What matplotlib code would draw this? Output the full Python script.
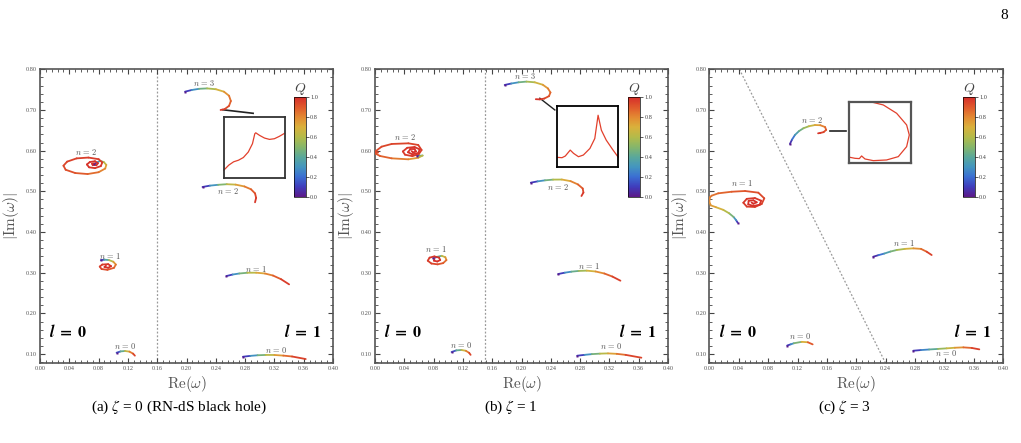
import matplotlib.pyplot as plt
from matplotlib.collections import LineCollection
from matplotlib.colors import LinearSegmentedColormap

plt.rcParams['mathtext.fontset'] = 'cm'
plt.rcParams['font.family'] = 'Liberation Serif'

# colour scale for the charge Q (rainbow style)
q_colors = ['#5b1a8a', '#3f3dbd', '#3b6fd2', '#4496bf', '#5aa89a', '#86b66a',
            '#b3bb4a', '#d9b13c', '#e38a32', '#e05a2c', '#d6302a']
rainbow = LinearSegmentedColormap.from_list('rainbow_q', q_colors)

# ---- panel (a): zeta = 0 ----  points are (Re, |Im|, Q)
a_l0_n0 = [(0.1045, 0.1033, 0.0), (0.110, 0.1065, 0.3), (0.116, 0.1075, 0.55),
           (0.122, 0.106, 0.75), (0.127, 0.101, 0.9), (0.1295, 0.096, 1.0)]
a_l0_n1 = [(0.083, 0.331, 0.0), (0.088, 0.332, 0.25), (0.094, 0.331, 0.5),
           (0.100, 0.327, 0.7), (0.1035, 0.320, 0.82), (0.101, 0.312, 0.88),
           (0.092, 0.307, 0.92), (0.084, 0.309, 0.945), (0.0815, 0.315, 0.96),
           (0.085, 0.320, 0.97), (0.093, 0.321, 0.98), (0.097, 0.316, 0.987),
           (0.093, 0.312, 0.993), (0.088, 0.314, 0.997), (0.090, 0.317, 1.0)]
a_l0_n2 = [(0.074, 0.567, 0.0), (0.078, 0.571, 0.2), (0.082, 0.575, 0.4),
           (0.087, 0.572, 0.55), (0.0905, 0.565, 0.7), (0.089, 0.556, 0.78),
           (0.080, 0.547, 0.84), (0.065, 0.5425, 0.88), (0.048, 0.545, 0.91),
           (0.035, 0.553, 0.93), (0.032, 0.563, 0.94), (0.037, 0.573, 0.95),
           (0.050, 0.581, 0.96), (0.066, 0.583, 0.965), (0.080, 0.579, 0.97),
           (0.085, 0.571, 0.975), (0.083, 0.562, 0.98), (0.075, 0.557, 0.984),
           (0.067, 0.559, 0.987), (0.064, 0.566, 0.99), (0.068, 0.572, 0.992),
           (0.075, 0.574, 0.994), (0.079, 0.569, 0.996), (0.077, 0.564, 0.997),
           (0.072, 0.564, 0.998), (0.071, 0.568, 0.999), (0.074, 0.569, 1.0)]
a_l1_n0 = [(0.277, 0.0934, 0.0), (0.287, 0.0955, 0.2), (0.297, 0.097, 0.38),
           (0.308, 0.0978, 0.55), (0.320, 0.0977, 0.7), (0.332, 0.0962, 0.82),
           (0.344, 0.094, 0.91), (0.3627, 0.0877, 1.0)]
a_l1_n1 = [(0.2545, 0.2918, 0.0), (0.263, 0.2955, 0.2), (0.272, 0.298, 0.38),
           (0.283, 0.2998, 0.55), (0.295, 0.300, 0.68), (0.307, 0.298, 0.78),
           (0.318, 0.293, 0.86), (0.329, 0.284, 0.93), (0.340, 0.2713, 1.0)]
a_l1_n2 = [(0.2218, 0.5107, 0.0), (0.232, 0.514, 0.2), (0.243, 0.516, 0.4),
           (0.255, 0.5175, 0.58), (0.267, 0.5165, 0.7), (0.279, 0.512, 0.8),
           (0.288, 0.505, 0.87), (0.2935, 0.495, 0.92), (0.295, 0.484, 0.96),
           (0.2935, 0.473, 1.0)]
a_l1_n3 = [(0.198, 0.745, 0.0), (0.207, 0.749, 0.2), (0.217, 0.752, 0.38),
           (0.228, 0.753, 0.52), (0.240, 0.751, 0.64), (0.251, 0.745, 0.74),
           (0.258, 0.735, 0.82), (0.2605, 0.722, 0.87), (0.258, 0.710, 0.91),
           (0.252, 0.702, 0.95), (0.2465, 0.700, 1.0)]

# ---- panel (b): zeta = 1 ----
b_l0_n0 = [(0.1045, 0.105, 0.0), (0.111, 0.109, 0.3), (0.118, 0.110, 0.55),
           (0.124, 0.108, 0.75), (0.1285, 0.103, 0.9), (0.1305, 0.098, 1.0)]
b_l0_n1 = [(0.0796, 0.3353, 0.0), (0.085, 0.339, 0.3), (0.091, 0.3415, 0.55),
           (0.096, 0.338, 0.72), (0.0975, 0.331, 0.83), (0.093, 0.3235, 0.89),
           (0.0855, 0.3205, 0.93), (0.077, 0.3225, 0.95), (0.072, 0.3295, 0.965),
           (0.0745, 0.337, 0.975), (0.081, 0.340, 0.982), (0.0875, 0.337, 0.988),
           (0.089, 0.331, 0.993), (0.085, 0.3275, 0.996), (0.0805, 0.3295, 0.998),
           (0.081, 0.3335, 1.0)]
b_l0_n2 = [(0.057, 0.588, 0.0), (0.061, 0.5875, 0.3), (0.065, 0.588, 0.55),
           (0.059, 0.5825, 0.72), (0.0455, 0.5787, 0.8), (0.0227, 0.5811, 0.86),
           (0.0068, 0.5869, 0.9), (0.0, 0.5934, 0.92), (0.004, 0.5955, 0.93),
           (0.0, 0.5975, 0.935), (0.009, 0.6098, 0.94), (0.0227, 0.6164, 0.945),
           (0.0455, 0.618, 0.95), (0.059, 0.6139, 0.955), (0.0636, 0.6016, 0.96),
           (0.060, 0.592, 0.965), (0.051, 0.5865, 0.968), (0.041, 0.590, 0.972),
           (0.038, 0.598, 0.976), (0.044, 0.607, 0.98), (0.054, 0.609, 0.984),
           (0.061, 0.603, 0.987), (0.059, 0.594, 0.99), (0.051, 0.591, 0.992),
           (0.045, 0.596, 0.994), (0.048, 0.603, 0.996), (0.054, 0.603, 0.997),
           (0.056, 0.598, 0.998), (0.052, 0.5955, 0.999), (0.050, 0.599, 1.0)]
b_l1_n0 = [(0.276, 0.0959, 0.0), (0.286, 0.098, 0.2), (0.296, 0.0998, 0.38),
           (0.307, 0.101, 0.55), (0.318, 0.1016, 0.68), (0.330, 0.1005, 0.8),
           (0.342, 0.098, 0.9), (0.3636, 0.091, 1.0)]
b_l1_n1 = [(0.250, 0.2967, 0.0), (0.259, 0.300, 0.2), (0.268, 0.3025, 0.36),
           (0.278, 0.3043, 0.5), (0.289, 0.305, 0.62), (0.301, 0.303, 0.74),
           (0.313, 0.298, 0.84), (0.324, 0.2905, 0.92), (0.335, 0.2803, 1.0)]
b_l1_n2 = [(0.2127, 0.5213, 0.0), (0.222, 0.5245, 0.2), (0.232, 0.527, 0.38),
           (0.243, 0.5288, 0.54), (0.255, 0.529, 0.66), (0.267, 0.525, 0.78),
           (0.277, 0.517, 0.86), (0.2835, 0.507, 0.92), (0.2845, 0.497, 0.96),
           (0.2818, 0.4885, 1.0)]
b_l1_n3 = [(0.177, 0.7615, 0.0), (0.186, 0.765, 0.2), (0.196, 0.768, 0.38),
           (0.2068, 0.7697, 0.52), (0.218, 0.768, 0.63), (0.229, 0.762, 0.72),
           (0.236, 0.753, 0.8), (0.2395, 0.743, 0.86), (0.2375, 0.734, 0.9),
           (0.231, 0.728, 0.95), (0.225, 0.726, 0.98), (0.2195, 0.7265, 1.0)]

# ---- panel (c): zeta = 3 ----
c_l0_n0 = [(0.106, 0.121, 0.0), (0.111, 0.124, 0.2), (0.115, 0.1265, 0.35),
           (0.1256, 0.130, 0.6), (0.134, 0.129, 0.8), (0.1406, 0.1238, 1.0)]
c_l0_n1 = [(0.0386, 0.423, 0.0), (0.0365, 0.429, 0.2), (0.033, 0.437, 0.4),
           (0.027, 0.446, 0.55), (0.019, 0.4545, 0.65), (0.009, 0.461, 0.72),
           (0.002, 0.4655, 0.76), (0.0, 0.475, 0.79), (0.001, 0.4855, 0.82),
           (0.0032, 0.4893, 0.84), (0.0122, 0.4951, 0.86), (0.0304, 0.499, 0.89),
           (0.0486, 0.5008, 0.91), (0.0667, 0.4967, 0.93), (0.0748, 0.4828, 0.945),
           (0.0713, 0.4689, 0.955), (0.062, 0.4615, 0.962), (0.051, 0.4625, 0.968),
           (0.0463, 0.472, 0.973), (0.051, 0.4815, 0.977), (0.062, 0.4835, 0.981),
           (0.0705, 0.477, 0.985), (0.0685, 0.467, 0.988), (0.060, 0.464, 0.991),
           (0.053, 0.468, 0.993), (0.0535, 0.4765, 0.995), (0.060, 0.478, 0.997),
           (0.0645, 0.473, 0.998), (0.060, 0.4695, 0.999), (0.0575, 0.4725, 1.0)]
c_l0_n2 = [(0.1097, 0.6164, 0.0), (0.1125, 0.627, 0.15), (0.1165, 0.6385, 0.28),
           (0.122, 0.648, 0.4), (0.128, 0.655, 0.5), (0.1355, 0.660, 0.6),
           (0.1437, 0.663, 0.7), (0.151, 0.6625, 0.78), (0.1575, 0.658, 0.85),
           (0.159, 0.651, 0.9), (0.1555, 0.6455, 0.94), (0.151, 0.6435, 0.97),
           (0.148, 0.6426, 1.0)]
c_l1_n0 = [(0.2776, 0.1082, 0.0), (0.288, 0.1098, 0.18), (0.299, 0.1112, 0.34),
           (0.311, 0.1126, 0.48), (0.3229, 0.114, 0.6), (0.334, 0.1155, 0.72),
           (0.3456, 0.1164, 0.82), (0.357, 0.115, 0.92), (0.3673, 0.1115, 1.0)]
c_l1_n1 = [(0.2231, 0.3393, 0.0), (0.230, 0.343, 0.14), (0.238, 0.347, 0.28),
           (0.2465, 0.352, 0.42), (0.2549, 0.3557, 0.52), (0.266, 0.3585, 0.64),
           (0.2776, 0.3598, 0.74), (0.288, 0.3585, 0.83), (0.2957, 0.3516, 0.91),
           (0.3025, 0.3434, 1.0)]

# zoomed detail of the end of the highest overtone (inset units 0..1)
a_zoom = [(0.0, 0.124), (0.08, 0.205), (0.16, 0.26), (0.24, 0.286), (0.32, 0.33),
          (0.401, 0.42), (0.47, 0.557), (0.508, 0.719), (0.524, 0.735),
          (0.588, 0.692), (0.668, 0.649), (0.75, 0.627), (0.83, 0.638),
          (0.91, 0.676), (1.0, 0.728)]
b_zoom = [(0.01, 0.162), (0.08, 0.157), (0.134, 0.184), (0.215, 0.281), (0.27, 0.227),
          (0.35, 0.173), (0.43, 0.2), (0.538, 0.308), (0.618, 0.47), (0.672, 0.849),
          (0.726, 0.605), (0.806, 0.443), (0.914, 0.286), (1.0, 0.168)]
c_zoom = [(0.34, 1.0), (0.557, 0.946), (0.773, 0.811), (0.935, 0.622), (0.978, 0.459),
          (0.935, 0.27), (0.8, 0.108), (0.61, 0.054), (0.395, 0.043), (0.26, 0.07),
          (0.205, 0.119), (0.168, 0.076), (0.097, 0.081), (0.016, 0.097)]

# separatrix lines between l=0 and l=1 families
a_sep = [(0.16, 0.078), (0.16, 0.80)]
b_sep = [(0.15, 0.078), (0.15, 0.80)]
c_sep = [(0.041, 0.80), (0.2397, 0.078)]


def draw_curve(ax, pts):
    segs = [[(pts[i][0], pts[i][1]), (pts[i + 1][0], pts[i + 1][1])] for i in range(len(pts) - 1)]
    cols = [rainbow((pts[i][2] + pts[i + 1][2]) / 2) for i in range(len(pts) - 1)]
    ax.add_collection(LineCollection(segs, colors=cols, linewidths=1.3, capstyle='round',
                                     joinstyle='round', zorder=3))
    ax.plot(pts[0][0], pts[0][1], 's', ms=1.8, color=rainbow(0.0), mec='none', zorder=4)


def nlabel(ax, x, y, n):
    ax.text(x, y, r'$n\,=\,%d$' % n, fontsize=6, color='#555555', ha='center', va='center')


def setup(ax, sep):
    ax.set_xlim(0, 0.40)
    ax.set_ylim(0.078, 0.80)
    ax.set_xticks([0.0, 0.04, 0.08, 0.12, 0.16, 0.20, 0.24, 0.28, 0.32, 0.36, 0.40])
    ax.set_yticks([0.10, 0.20, 0.30, 0.40, 0.50, 0.60, 0.70, 0.80])
    ax.set_xticks([i * 0.008 for i in range(51)], minor=True)
    ax.set_yticks([0.08 + i * 0.02 for i in range(37)], minor=True)
    ax.xaxis.set_major_formatter(lambda v, p: '%.2f' % v)
    ax.yaxis.set_major_formatter(lambda v, p: '%.2f' % v)
    ax.tick_params(which='both', direction='in', top=True, right=True, colors='#444444',
                   labelsize=4.5, labelcolor='#555555', pad=2)
    ax.tick_params(which='major', length=3.5, width=0.8)
    ax.tick_params(which='minor', length=2, width=0.6)
    for s in ax.spines.values():
        s.set_color('#555555')
        s.set_linewidth(1.2)
    ax.set_xlabel(r'$\mathrm{Re}(\omega)$', fontsize=11, color='#555555', labelpad=2)
    ax.set_ylabel(r'$|\mathrm{Im}(\omega)|$', fontsize=11, color='#555555', labelpad=4)
    ax.plot([sep[0][0], sep[1][0]], [sep[0][1], sep[1][1]], color='#999999', lw=0.9,
            ls=(0, (1.5, 1.5)), zorder=1)
    ax.text(0.039, 0.1525, r'$\boldsymbol{l}\ \mathbf{=\ 0}$', fontsize=11.5,
            ha='center', va='center', math_fontfamily='stix')
    ax.text(0.359, 0.1525, r'$\boldsymbol{l}\ \mathbf{=\ 1}$', fontsize=11.5,
            ha='center', va='center', math_fontfamily='stix')


def colorbar(fig, ax, x0):
    cax = ax.inset_axes([x0, 0.487, 0.0165, 0.244], transform=ax.transData)
    sm = plt.cm.ScalarMappable(cmap=rainbow, norm=plt.Normalize(0, 1))
    cb = fig.colorbar(sm, cax=cax, ticks=[0.0, 0.2, 0.4, 0.6, 0.8, 1.0])
    cb.ax.yaxis.set_major_formatter(lambda v, p: '%.1f' % v)
    cb.ax.tick_params(labelsize=4.5, length=2, width=0.6, pad=1, colors='#444444')
    cb.outline.set_linewidth(0.5)
    cax.set_title(r'$Q$', fontsize=10, pad=4, color='#444444')


def inset(ax, bounds, pts, lw_box=1.2, box_col='black'):
    iax = ax.inset_axes(bounds, transform=ax.transData)
    iax.plot([p[0] for p in pts], [p[1] for p in pts], color='#e2402c', lw=0.9, clip_on=False)
    iax.set_xlim(0, 1)
    iax.set_ylim(0, 1)
    iax.set_xticks([])
    iax.set_yticks([])
    for s in iax.spines.values():
        s.set_linewidth(lw_box)
        s.set_color(box_col)
    iax.patch.set_alpha(0)


fig = plt.figure(figsize=(10.21, 4.43), dpi=100)
ax_a = fig.add_axes([0.0392, 0.1806, 0.287, 0.663])
ax_b = fig.add_axes([0.3673, 0.1806, 0.287, 0.663])
ax_c = fig.add_axes([0.6947, 0.1806, 0.288, 0.663])

# panel (a)
setup(ax_a, a_sep)
for c in [a_l0_n0, a_l0_n1, a_l0_n2, a_l1_n0, a_l1_n1, a_l1_n2, a_l1_n3]:
    draw_curve(ax_a, c)
nlabel(ax_a, 0.116, 0.1197, 0)
nlabel(ax_a, 0.0955, 0.341, 1)
nlabel(ax_a, 0.0636, 0.5975, 2)
nlabel(ax_a, 0.3227, 0.111, 0)
nlabel(ax_a, 0.2955, 0.31, 1)
nlabel(ax_a, 0.257, 0.5008, 2)
nlabel(ax_a, 0.2236, 0.767, 3)
inset(ax_a, [0.251, 0.5336, 0.083, 0.150], a_zoom, 1.3, '#333333')
ax_a.plot([0.2495, 0.2909], [0.7005, 0.6918], color='#222222', lw=1.2)
colorbar(fig, ax_a, 0.3464)

# panel (b)
setup(ax_b, b_sep)
for c in [b_l0_n0, b_l0_n1, b_l0_n2, b_l1_n0, b_l1_n1, b_l1_n2, b_l1_n3]:
    draw_curve(ax_b, c)
nlabel(ax_b, 0.118, 0.1213, 0)
nlabel(ax_b, 0.084, 0.3574, 1)
nlabel(ax_b, 0.041, 0.6344, 2)
nlabel(ax_b, 0.3227, 0.1205, 0)
nlabel(ax_b, 0.292, 0.3172, 1)
nlabel(ax_b, 0.250, 0.5107, 2)
nlabel(ax_b, 0.2055, 0.7836, 3)
inset(ax_b, [0.2486, 0.559, 0.0832, 0.1508], b_zoom, 1.3, 'black')
ax_b.plot([0.2250, 0.2455], [0.7288, 0.7000], color='#222222', lw=1.0)
colorbar(fig, ax_b, 0.3455)

# panel (c)
setup(ax_c, c_sep)
for c in [c_l0_n0, c_l0_n1, c_l0_n2, c_l1_n0, c_l1_n1]:
    draw_curve(ax_c, c)
nlabel(ax_c, 0.1234, 0.1443, 0)
nlabel(ax_c, 0.0454, 0.5197, 1)
nlabel(ax_c, 0.1406, 0.6754, 2)
nlabel(ax_c, 0.3229, 0.1016, 0)
nlabel(ax_c, 0.2649, 0.3738, 1)
inset(ax_c, [0.190, 0.5689, 0.0839, 0.1516], c_zoom, 1.6, '#555555')
ax_c.plot([0.1642, 0.1855], [0.6492, 0.6492], color='#222222', lw=1.2)
colorbar(fig, ax_c, 0.3447)

# sub-captions and page number
fig.text(0.175, 0.081, r'(a) $\zeta$ = 0 (RN-dS black hole)', fontsize=11, ha='center',
         va='center', math_fontfamily='stix')
fig.text(0.5, 0.081, r'(b) $\zeta$ = 1', fontsize=11, ha='center', va='center',
         math_fontfamily='stix')
fig.text(0.827, 0.081, r'(c) $\zeta$ = 3', fontsize=11, ha='center', va='center',
         math_fontfamily='stix')
fig.text(0.984, 0.966, '8', fontsize=11, ha='center', va='center')

fig.savefig('out.png', dpi=100)
